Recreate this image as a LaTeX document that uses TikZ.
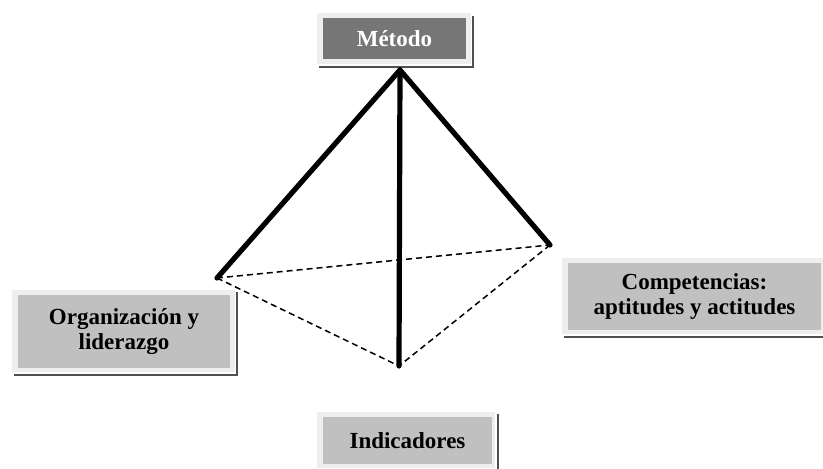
\documentclass[tikz,border=0pt]{standalone}
\usepackage{fontspec}
\setmainfont{Liberation Serif}
\definecolor{framec}{HTML}{EEEEEE}
\definecolor{shadowc}{HTML}{505050}
\definecolor{boxgray}{HTML}{C0C0C0}
\definecolor{darkgray}{HTML}{767676}
\tikzset{
  panel/.style={fill=boxgray, inner sep=0pt, align=center,
    font=\bfseries\fontsize{23}{25.5}\selectfont, text=black},
  darkpanel/.style={panel, fill=darkgray, text=white},
  thickedge/.style={line width=5.2pt, black, line cap=round, line join=round},
  hiddenedge/.style={line width=1.5pt, black, dash pattern=on 6pt off 4pt},
  framefill/.style={fill=framec},
  shadowline/.style={draw=shadowc, line width=2.5pt}
}
\begin{document}
\begin{tikzpicture}[x=1pt,y=-1pt]
\useasboundingbox[fill=white] (0,0) rectangle (823,469);

% tetrahedron vertices
\coordinate (apex) at (400,70);
\coordinate (vl) at (217,278);
\coordinate (vr) at (550,245);
\coordinate (vb) at (399,366);

% hidden (dashed) edges
\draw[hiddenedge] (vl) -- (vr);
\draw[hiddenedge] (vl) -- (vb);
\draw[hiddenedge] (vr) -- (vb);

% Método
\fill[framefill] (317,13) rectangle (471,64);
\draw[shadowline] (473,16) -- (473,67) -- (319,67);
\node[darkpanel, minimum width=143pt, minimum height=41pt] (metodo) at (394.5,38.5) {Método};

% Organización y liderazgo
\fill[framefill] (12,290) rectangle (235,372);
\draw[shadowline] (237,292) -- (237,375) -- (14,375);
\node[panel, minimum width=212pt, minimum height=73pt] (org) at (124,331.5) {Organización y\\liderazgo};

% Competencias
\fill[framefill] (562,258) rectangle (823,334);
\draw[shadowline] (564,337) -- (823,337);
\node[panel, minimum width=253pt, minimum height=67pt] (comp) at (694.5,296.5) {Competencias:\\aptitudes y actitudes};

% Indicadores
\fill[framefill] (317,412) rectangle (495,468);
\draw[shadowline] (498,414) -- (498,469);
\node[panel, minimum width=169pt, minimum height=47pt] (ind) at (407.5,440.5) {Indicadores};

% visible (thick) edges
\draw[thickedge] (apex) -- (vl);
\draw[thickedge] (apex) -- (vr);
\draw[thickedge] (apex) -- (vb);
\end{tikzpicture}
\end{document}
